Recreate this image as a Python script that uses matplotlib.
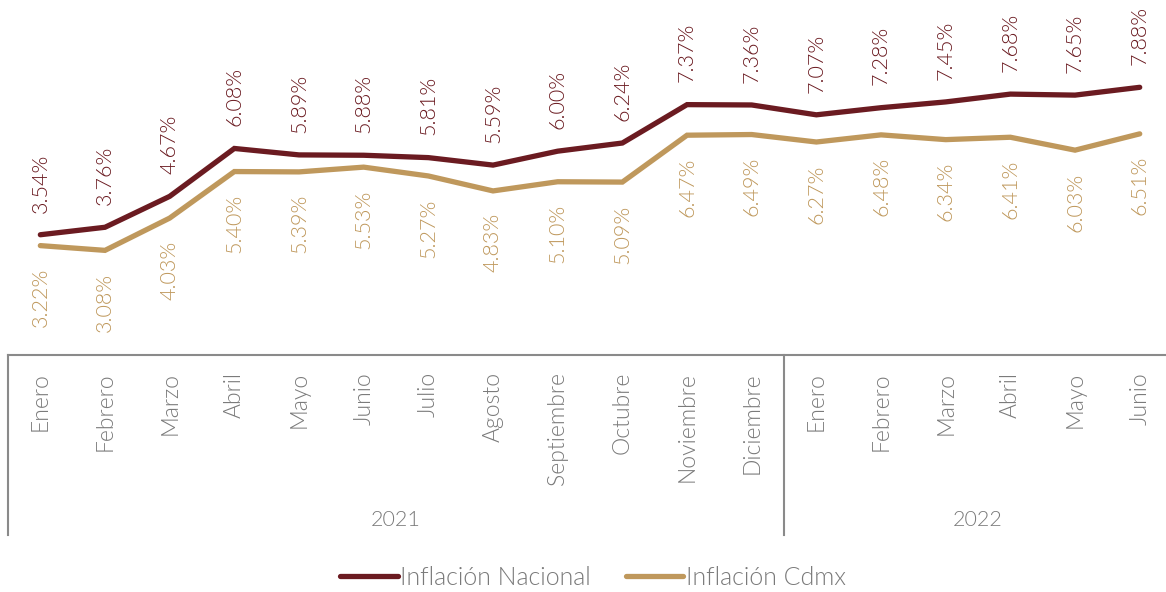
import matplotlib
matplotlib.use("Agg")
import matplotlib.pyplot as plt
from matplotlib.lines import Line2D

months = ["Enero", "Febrero", "Marzo", "Abril", "Mayo", "Junio", "Julio", "Agosto",
          "Septiembre", "Octubre", "Noviembre", "Diciembre",
          "Enero", "Febrero", "Marzo", "Abril", "Mayo", "Junio"]
years = ["2021", "2022"]
year_counts = [12, 6]
nacional = [3.54, 3.76, 4.67, 6.08, 5.89, 5.88, 5.81, 5.59, 6.00, 6.24, 7.37, 7.36,
            7.07, 7.28, 7.45, 7.68, 7.65, 7.88]
cdmx = [3.22, 3.08, 4.03, 5.40, 5.39, 5.53, 5.27, 4.83, 5.10, 5.09, 6.47, 6.49,
        6.27, 6.48, 6.34, 6.41, 6.03, 6.51]

plt.rcParams['font.family'] = ['Lato', 'DejaVu Sans']
FW = 300
C_NAC = "#6B1B21"
C_CDMX = "#BF985C"
GRAY = "#7a7a7a"
AXC = "#8a8a8a"

W, H = 1166, 592
fig = plt.figure(figsize=(W / 100, H / 100), dpi=100)
cw = 64.67
left_px = 8
axis_px = 355
ax = fig.add_axes([left_px / W, 1 - axis_px / H, 18 * cw / W, axis_px / H])
n = len(months)
xs = list(range(n))
ax.set_xlim(-0.5, n - 0.5)
ax.set_ylim(0, 10.45)
ax.axis("off")

ax.plot(xs, nacional, color=C_NAC, lw=3.8, solid_capstyle="round", solid_joinstyle="miter")
ax.plot(xs, cdmx, color=C_CDMX, lw=3.8, solid_capstyle="round", solid_joinstyle="miter")

for x, v in zip(xs, nacional):
    ax.annotate(f"{v:.2f}%", (x, v), xytext=(0, 16), textcoords="offset points",
                rotation=90, ha="center", va="bottom", color=C_NAC, fontsize=15.5,
                fontweight=FW)
for x, v in zip(xs, cdmx):
    ax.annotate(f"{v:.2f}%", (x, v), xytext=(0, -16), textcoords="offset points",
                rotation=90, ha="center", va="top", color=C_CDMX, fontsize=15.5,
                fontweight=FW)

ax2 = fig.add_axes([left_px / W, 1 - 540 / H, 18 * cw / W, (540 - axis_px) / H])
ax2.set_xlim(-0.5, n - 0.5)
ax2.set_ylim(540, axis_px)
ax2.axis("off")
ax2.plot([-0.5, n - 0.5], [axis_px, axis_px], color=AXC, lw=1.5, clip_on=False)
start = -0.5
for yr, cnt in zip(years, year_counts):
    ax2.plot([start, start], [axis_px, 535], color=AXC, lw=1.5, clip_on=False)
    ax2.text(start + cnt / 2, 520, yr, ha="center", va="center", color=GRAY,
             fontsize=15.5, fontweight=FW)
    start += cnt
for x, m in zip(xs, months):
    ax2.text(x, 372, m, rotation=90, ha="center", va="top", color=GRAY,
             fontsize=16.5, fontweight=FW)

handles = [Line2D([], [], color=C_NAC, lw=3.8, solid_capstyle="round"),
           Line2D([], [], color=C_CDMX, lw=3.8, solid_capstyle="round")]
leg = fig.legend(handles, ["Inflación Nacional", "Inflación Cdmx"], loc="center",
                 bbox_to_anchor=(593 / W, 1 - 578 / H), ncol=2, frameon=False,
                 handlelength=2.3, handletextpad=0.1, columnspacing=1.4,
                 prop={"size": 18, "weight": FW})
for t in leg.get_texts():
    t.set_color(GRAY)

fig.savefig("out.png", dpi=100)
